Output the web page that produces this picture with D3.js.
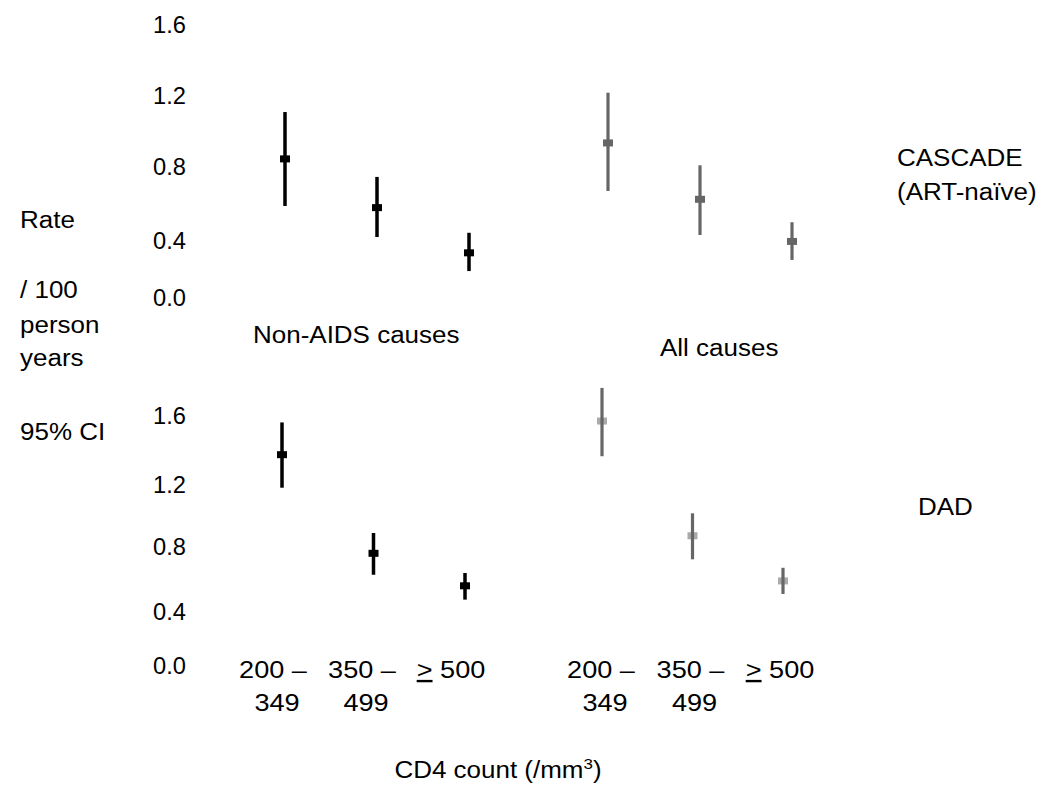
<!DOCTYPE html>
<html>
<head>
<meta charset="utf-8">
<script src="https://cdn.jsdelivr.net/npm/d3@7"></script>
<style>
  html, body { margin: 0; padding: 0; background: #fff; }
  svg { display: block; font-family: "Liberation Sans", Arial, sans-serif; }
</style>
</head>
<body>
<svg id="chart" width="1050" height="794"></svg>
<script>
// ---------------- data ----------------
const categories = ["200–349", "350–499", ">=500"];
const catLine1 = ["200 –", "350 –", ">"];
const catLine2 = ["349", "499", ""];
const yTicks = [0, 0.4, 0.8, 1.2, 1.6];

// CASCADE (ART-naive), non-AIDS causes
const cascadeNonAidsRate = [0.84, 0.575, 0.31];
const cascadeNonAidsLow  = [0.584, 0.416, 0.182];
const cascadeNonAidsHigh = [1.104, 0.741, 0.439];
// CASCADE (ART-naive), all causes
const cascadeAllRate = [0.93, 0.62, 0.39];
const cascadeAllLow  = [0.665, 0.427, 0.26];
const cascadeAllHigh = [1.213, 0.804, 0.496];
// DAD, non-AIDS causes
const dadNonAidsRate = [1.37, 0.755, 0.555];
const dadNonAidsLow  = [1.176, 0.623, 0.47];
const dadNonAidsHigh = [1.557, 0.884, 0.634];
// DAD, all causes
const dadAllRate = [1.565, 0.866, 0.585];
const dadAllLow  = [1.361, 0.718, 0.505];
const dadAllHigh = [1.757, 1.011, 0.666];

// ---------------- drawing ----------------
const svg = d3.select("#chart");
const SX = 1.13; // horizontal text stretch seen in the reference

function addText(x, y, str, size, anchor) {
  return svg.append("text")
    .attr("transform", `translate(${x},${y}) scale(${SX},1)`)
    .attr("font-size", size)
    .attr("text-anchor", anchor || "start")
    .attr("fill", "#000")
    .text(str);
}

// y scales (hand-drawn slide axes: tick spacing not perfectly even)
const yTop = d3.scaleLinear().domain(yTicks).range([297, 240, 166, 95, 24]);
const yBot = d3.scaleLinear().domain(yTicks).range([665, 611, 546, 484, 415]);

function drawAxis(scale) {
  const g = svg.append("g")
    .attr("transform", "translate(186,0)")
    .call(d3.axisLeft(scale).tickValues(yTicks).tickFormat(d3.format(".1f")).tickSize(0).tickPadding(0));
  g.select(".domain").remove();
  g.attr("font-size", 23).attr("font-family", "Liberation Sans, Arial, sans-serif");
  g.selectAll("text")
    .attr("x", 0)
    .attr("dy", "0.36em")
    .style("font-size", "23px")
    .attr("fill", "#000")
    .attr("transform", "scale(1.03,1)");
}
drawAxis(yTop);
drawAxis(yBot);

function drawPanel(xRange, yScale, rate, low, high, lineColor, markColor, markOnTop) {
  const x = d3.scalePoint().domain(categories).range(xRange);
  const data = categories.map((c, i) => ({ c, r: rate[i], lo: low[i], hi: high[i] }));
  const g = svg.append("g");
  const drawMarks = () => g.selectAll(null).data(data).enter().append("rect")
    .attr("x", d => x(d.c) - 5)
    .attr("y", d => yScale(d.r) - 3.5)
    .attr("width", 10)
    .attr("height", 7)
    .attr("fill", markColor);
  const drawLines = () => g.selectAll(null).data(data).enter().append("line")
    .attr("x1", d => x(d.c)).attr("x2", d => x(d.c))
    .attr("y1", d => yScale(d.hi)).attr("y2", d => yScale(d.lo))
    .attr("stroke", lineColor)
    .attr("stroke-width", lineColor === "#000" ? 3.5 : 3.2);
  if (markOnTop) { drawLines(); drawMarks(); } else { drawMarks(); drawLines(); }
}

drawPanel([285, 469], yTop, cascadeNonAidsRate, cascadeNonAidsLow, cascadeNonAidsHigh, "#000", "#000", true);
drawPanel([608, 792], yTop, cascadeAllRate, cascadeAllLow, cascadeAllHigh, "#666", "#666", true);
drawPanel([282, 465], yBot, dadNonAidsRate, dadNonAidsLow, dadNonAidsHigh, "#000", "#000", true);
drawPanel([602, 783], yBot, dadAllRate, dadAllLow, dadAllHigh, "#666", "#aaa", false);

// category labels
function drawCatLabels(range) {
  const x = d3.scalePoint().domain(categories).range(range);
  categories.forEach((c, i) => {
    if (i === 2) {
      const t = svg.append("text")
        .attr("transform", `translate(${x(c)},678) scale(${SX},1)`)
        .attr("font-size", 24).attr("text-anchor", "middle").attr("fill", "#000");
      t.append("tspan").attr("text-decoration", "underline").text(catLine1[i]);
      t.append("tspan").text(" 500");
    } else {
      addText(x(c), 678, catLine1[i], 24, "middle");
      addText(x(c) + 4, 711, catLine2[i], 24, "middle");
    }
  });
}
drawCatLabels([273, 451]);
drawCatLabels([601, 780]);

// side / panel labels
addText(20, 228, "Rate", 23);
addText(20, 298, "/ 100", 23);
addText(20, 333, "person", 23);
addText(20, 366, "years", 23);
addText(20, 440, "95% CI", 23);

addText(253, 343, "Non-AIDS causes", 23);
addText(660, 356, "All causes", 23);
addText(897, 166, "CASCADE", 23);
addText(897, 200, "(ART-naïve)", 23);
addText(918, 515, "DAD", 23);

const xt = svg.append("text")
  .attr("transform", `translate(498,778) scale(${SX},1)`)
  .attr("font-size", 23).attr("text-anchor", "middle").attr("fill", "#000");
xt.append("tspan").text("CD4 count (/mm");
xt.append("tspan").attr("font-size", 15).attr("dy", -9).text("3");
xt.append("tspan").attr("dy", 9).text(")");
</script>
</body>
</html>
